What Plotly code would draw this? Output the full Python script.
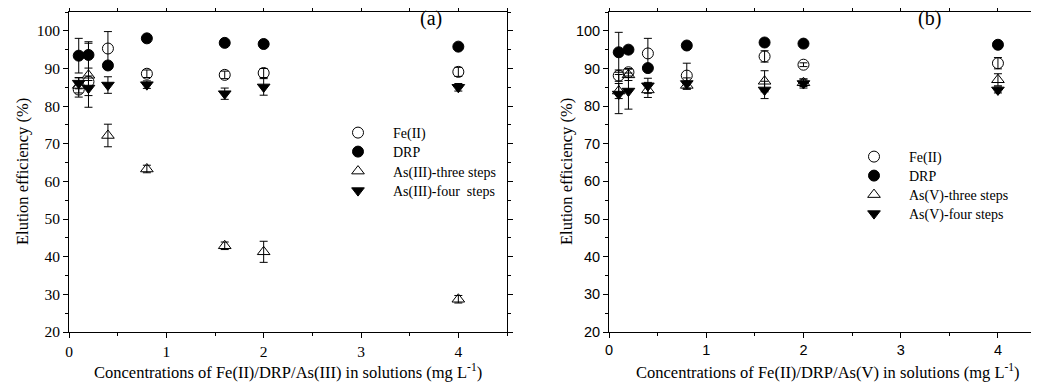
import plotly.graph_objects as go

conc = [0.1, 0.2, 0.4, 0.8, 1.6, 2, 4]

# Panel (a): As(III)
a_fe = [84.4, 86.5, 95.3, 88.6, 88.3, 88.8, 89.1]
a_fe_err = [2.0, 1.5, 4.5, 1.0, 1.0, 1.2, 1.2]
a_drp = [93.4, 93.6, 90.8, 98.0, 96.8, 96.5, 95.8]
a_drp_err = [4.6, 3.5, 1.0, 0.5, 0.5, 0.5, 0.5]
a_three = [85.5, 88.2, 72.2, 63.3, 42.9, 41.3, 28.7]
a_three_err = [2.0, 8.5, 3.0, 1.0, 1.0, 2.8, 1.0]
a_four = [86.1, 84.8, 85.6, 85.7, 83.3, 85.1, 85.0]
a_four_err = [1.5, 2.0, 2.2, 1.0, 1.5, 2.2, 1.0]

# Panel (b): As(V)
b_fe = [88.1, 89.0, 94.0, 88.1, 93.2, 91.0, 91.4]
b_fe_err = [1.5, 1.0, 4.0, 3.3, 1.5, 0.5, 1.5]
b_drp = [94.3, 95.0, 90.1, 96.1, 96.9, 96.6, 96.3]
b_drp_err = [5.3, 0.5, 0.5, 0.5, 0.5, 0.5, 0.5]
b_three = [84.0, 88.3, 84.3, 85.5, 86.6, 86.2, 87.0]
b_three_err = [2.0, 1.5, 2.0, 1.0, 2.8, 1.0, 1.6]
b_four = [83.2, 84.0, 85.4, 86.0, 84.3, 86.0, 84.3]
b_four_err = [5.2, 4.8, 2.0, 1.5, 2.3, 1.2, 0.8]

names_a = ["Fe(II)", "DRP", "As(III)-three steps", "As(III)-four  steps"]
names_b = ["Fe(II)", "DRP", "As(V)-three steps", "As(V)-four steps"]
symbols = ["circle-open", "circle", "triangle-up-open", "triangle-down"]

SERIF = "Liberation Serif"
SANS = "Liberation Sans"
# page body has an 8px margin: draw the figure in the remaining area
OX, OY = 8, 8
W, H = 1039 - OX, 389 - OY

def px(x):
    return (x - OX) / W

def py(y):
    return 1 - (y - OY) / H

fig = go.Figure()

# legend entry positions (symbol centre x, row centre y) in page pixels
leg_a_x, leg_a_rows = 358, [133, 152, 171.5, 191]
leg_b_x, leg_b_rows = 874, [157, 176, 195, 214]
LEG_OFF = 35  # legend box left edge to symbol centre

legends = {}
def add_panel(ys, errs, names, xa, ya, lx, rows, start):
    for i, (y, e, n, s) in enumerate(zip(ys, errs, names, symbols)):
        key = "legend" if start + i == 1 else f"legend{start + i}"
        fig.add_trace(go.Scatter(
            x=conc, y=y, mode="markers", name=n,
            marker=dict(symbol=s, size=11, color="black",
                        line=dict(color="black", width=1)),
            error_y=dict(type="data", array=e, color="black", thickness=1, width=4),
            xaxis=xa, yaxis=ya, legend=key,
        ))
        legends[key] = dict(x=px(lx - LEG_OFF), y=py(rows[i]), xanchor="left", yanchor="middle",
                            font=dict(family=SERIF, size=14, color="black"),
                            bgcolor="rgba(0,0,0,0)", itemwidth=60, borderwidth=0)

add_panel([a_fe, a_drp, a_three, a_four], [a_fe_err, a_drp_err, a_three_err, a_four_err],
          names_a, "x", "y", leg_a_x, leg_a_rows, 1)
add_panel([b_fe, b_drp, b_three, b_four], [b_fe_err, b_drp_err, b_three_err, b_four_err],
          names_b, "x2", "y2", leg_b_x, leg_b_rows, 5)

ydom = [py(332), py(12)]

def xaxis(dom, rng, font, fs):
    return dict(domain=dom, range=rng, showgrid=False, zeroline=False, showline=True,
                linecolor="black", linewidth=1, mirror="ticks", ticks="outside", ticklen=5,
                tickcolor="black", dtick=1, tick0=0, automargin=False,
                tickfont=dict(family=font, size=fs, color="black"),
                minor=dict(dtick=0.5, ticks="outside", ticklen=3, tickcolor="black"))

def yaxis(anchor, font, fs):
    return dict(domain=ydom, range=[20, 105], anchor=anchor, showgrid=False, zeroline=False,
                showline=True, linecolor="black", linewidth=1, mirror="ticks", ticks="outside",
                ticklen=5, tickcolor="black", dtick=10, tick0=0, automargin=False,
                tickfont=dict(family=font, size=fs, color="black"),
                minor=dict(dtick=5, ticks="outside", ticklen=3, tickcolor="black"))

xa = xaxis([px(69), px(507)], [0, 4.5], SERIF, 15.5)
xa["anchor"] = "y"
xb = xaxis([px(609), px(1031)], [0, 4.34], SANS, 14.5)
xb["anchor"] = "y2"

fig.update_layout(
    width=W, height=H, margin=dict(l=0, r=0, t=0, b=0, pad=0, autoexpand=False),
    paper_bgcolor="white", plot_bgcolor="white",
    xaxis=xa, yaxis=yaxis("x", SERIF, 15.5), xaxis2=xb, yaxis2=yaxis("x2", SANS, 14.5),
    showlegend=True,
    **legends,
)

ann_font = dict(family=SERIF, size=16.5, color="black")
def ann(x, y, text, **kw):
    fig.add_annotation(x=px(x), y=py(y), xref="paper", yref="paper", text=text,
                       showarrow=False, xanchor="center", yanchor="middle", **kw)

ann(22, 172, "Elution efficiency (%)", textangle=-90, font=ann_font)
ann(566, 172, "Elution efficiency (%)", textangle=-90, font=ann_font)
ann(288, 371, "Concentrations of Fe(II)/DRP/As(III) in solutions (mg L<sup>-1</sup>)", font=ann_font)
ann(828, 371, "Concentrations of Fe(II)/DRP/As(V) in solutions (mg L<sup>-1</sup>)", font=ann_font)
ann(431, 18, "(a)", font=dict(family=SERIF, size=20, color="black"))
ann(929, 18, "(b)", font=dict(family=SERIF, size=20, color="black"))

fig.write_html("out.html")
